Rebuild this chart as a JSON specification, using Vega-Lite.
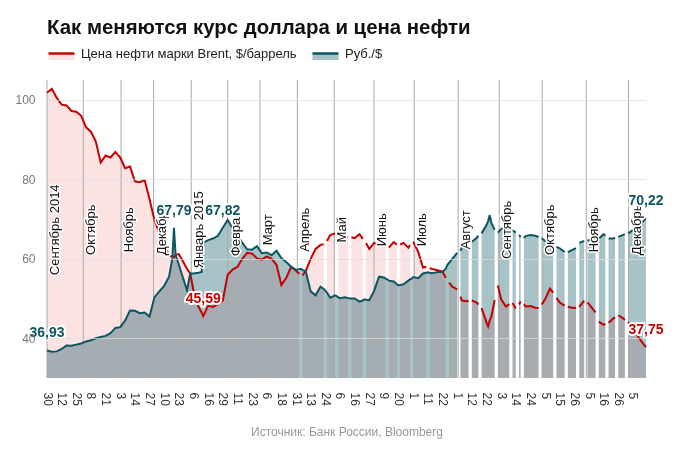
{
"$schema": "https://vega.github.io/schema/vega-lite/v6.json",
"width": 599, "height": 298,
"autosize": {"type": "none"},
"padding": {"left": 47, "top": 80, "right": 36, "bottom": 80},
"background": "white",
"title": {"text": "Как меняются курс доллара и цена нефти", "anchor": "start", "frame": "group", "fontSize": 20.4, "fontWeight": "bold", "font": "Liberation Sans", "color": "#111111", "offset": 1},
"datasets": {
"d": [
{"i":0,"o":101.8,"r":36.93},{"i":3,"o":102.8,"r":36.6},{"i":6,"o":100.5,"r":36.7},{"i":9,"o":98.8,"r":37.3},{"i":12,"o":98.6,"r":38.2},{"i":15,"o":97.2,"r":38.1},{"i":18,"o":97.0,"r":38.4},{"i":21,"o":96.0,"r":38.7},{"i":24,"o":93.1,"r":39.2},{"i":27,"o":92.0,"r":39.5},{"i":30,"o":89.5,"r":40.0},{"i":33,"o":84.2,"r":40.3},{"i":36,"o":86.0,"r":40.6},{"i":39,"o":85.5,"r":41.3},{"i":42,"o":86.9,"r":42.6},{"i":45,"o":85.5,"r":42.8},{"i":48,"o":82.8,"r":44.5},{"i":51,"o":83.2,"r":47.0},{"i":54,"o":79.5,"r":46.9},{"i":57,"o":79.3,"r":46.3},{"i":60,"o":79.8,"r":46.5},{"i":63,"o":75.0,"r":45.5},{"i":66,"o":69.8,"r":50.3},{"i":69,"o":66.5,"r":51.8},{"i":72,"o":63.5,"r":53.2},{"i":75,"o":60.8,"r":55.5},{"i":77,"o":60.6,"r":60.0},{"i":78,"o":60.5,"r":67.79},{"i":79,"o":61.0,"r":61.0},{"i":81,"o":61.2,"r":58.5},{"i":84,"o":59.0,"r":54.6},{"i":86,"o":57.5,"r":52.1},{"i":88,"o":56.3,"r":56.3},{"i":90,"o":52.0,"r":56.3},{"i":93,"o":48.0,"r":56.5},{"i":95,"o":46.5,"r":56.7},{"i":96,"o":45.59,"r":64.0},{"i":99,"o":48.2,"r":64.7},{"i":102,"o":47.9,"r":65.1},{"i":105,"o":48.6,"r":65.8},{"i":108,"o":49.5,"r":67.82},{"i":111,"o":56.0,"r":69.8},{"i":114,"o":57.3,"r":67.6},{"i":117,"o":58.0,"r":65.7},{"i":120,"o":60.0,"r":64.0},{"i":123,"o":61.5,"r":62.4},{"i":126,"o":61.3,"r":62.3},{"i":129,"o":60.1,"r":63.2},{"i":132,"o":59.8,"r":61.4},{"i":135,"o":60.6,"r":61.6},{"i":138,"o":60.0,"r":60.9},{"i":141,"o":58.5,"r":62.0},{"i":144,"o":53.4,"r":60.2},{"i":147,"o":55.2,"r":59.2},{"i":150,"o":58.0,"r":58.0},{"i":153,"o":57.0,"r":57.2},{"i":155,"o":56.2,"r":57.4},{"i":156,"o":null,"r":57.5},{"i":157,"o":55.8,"r":57.2},{"i":159,"o":57.0,"r":56.8},{"i":162,"o":60.0,"r":51.8},{"i":165,"o":62.5,"r":50.8},{"i":168,"o":63.5,"r":53.0},{"i":170,"o":63.7,"r":52.4},{"i":171,"o":null,"r":52.0},{"i":172,"o":64.5,"r":51.5},{"i":174,"o":66.0,"r":50.2},{"i":177,"o":66.4,"r":50.8},{"i":178,"o":null,"r":50.6},{"i":179,"o":66.0,"r":50.3},{"i":180,"o":65.8,"r":50.1},{"i":183,"o":65.5,"r":50.3},{"i":185,"o":65.5,"r":50.1},{"i":186,"o":null,"r":50.0},{"i":187,"o":65.4,"r":50.0},{"i":189,"o":65.2,"r":50.0},{"i":192,"o":66.2,"r":49.2},{"i":194,"o":65.0,"r":49.5},{"i":195,"o":null,"r":49.8},{"i":196,"o":64.0,"r":49.7},{"i":198,"o":62.5,"r":49.6},{"i":201,"o":64.0,"r":52.0},{"i":204,"o":63.5,"r":55.5},{"i":207,"o":63.8,"r":55.3},{"i":208,"o":63.2,"r":55.0},{"i":209,"o":null,"r":54.8},{"i":210,"o":62.8,"r":54.5},{"i":213,"o":64.2,"r":54.3},{"i":215,"o":63.6,"r":53.6},{"i":216,"o":null,"r":53.3},{"i":217,"o":63.6,"r":53.4},{"i":219,"o":64.0,"r":53.6},{"i":222,"o":62.8,"r":54.5},{"i":223,"o":63.5,"r":54.8},{"i":224,"o":null,"r":55.0},{"i":225,"o":64.3,"r":55.4},{"i":228,"o":61.8,"r":55.1},{"i":231,"o":57.8,"r":56.3},{"i":233,"o":58.0,"r":56.5},{"i":234,"o":null,"r":56.6},{"i":235,"o":57.6,"r":56.5},{"i":237,"o":57.4,"r":56.4},{"i":240,"o":57.1,"r":56.7},{"i":243,"o":56.8,"r":56.7},{"i":245,"o":55.2,"r":57.5},{"i":246,"o":null,"r":58.5},{"i":247,"o":54.0,"r":59.0},{"i":249,"o":53.0,"r":60.0},
{"i":252,"o":52.3,"r":61.5},{"i":253,"o":null,"r":null},{"i":254,"o":50.5,"r":62.0},{"i":255,"o":49.5,"r":63.0},{"i":258,"o":49.3,"r":62.8},{"i":259,"o":49.4,"r":63.3},{"i":260,"o":null,"r":null},{"i":261,"o":49.5,"r":64.3},{"i":264,"o":49.0,"r":65.3},{"i":265,"o":48.5,"r":65.8},{"i":266,"o":null,"r":null},{"i":267,"o":47.6,"r":66.4},{"i":270,"o":44.0,"r":68.5},{"i":271,"o":43.0,"r":69.5},{"i":272,"o":44.5,"r":71.0},{"i":273,"o":45.5,"r":69.0},{"i":275,"o":49.6,"r":67.3},{"i":276,"o":null,"r":null},{"i":277,"o":53.3,"r":66.6},{"i":279,"o":49.8,"r":67.5},{"i":282,"o":48.0,"r":68.0},{"i":284,"o":48.6,"r":67.6},{"i":285,"o":null,"r":null},{"i":286,"o":48.9,"r":67.2},{"i":288,"o":47.5,"r":66.6},{"i":289,"o":null,"r":null},{"i":290,"o":48.5,"r":66.0},{"i":291,"o":49.3,"r":65.5},{"i":292,"o":null,"r":null},{"i":293,"o":48.6,"r":65.2},{"i":294,"o":48.0,"r":65.7},{"i":297,"o":48.1,"r":66.0},{"i":300,"o":47.7,"r":65.8},{"i":302,"o":47.6,"r":65.5},{"i":303,"o":null,"r":null},{"i":304,"o":48.5,"r":65.2},{"i":306,"o":49.8,"r":64.5},{"i":309,"o":52.5,"r":64.3},{"i":311,"o":51.5,"r":63.8},{"i":312,"o":null,"r":null},{"i":313,"o":50.2,"r":63.0},{"i":315,"o":49.0,"r":62.6},{"i":318,"o":48.2,"r":61.7},{"i":319,"o":null,"r":null},{"i":320,"o":48.0,"r":61.6},{"i":321,"o":47.8,"r":61.9},{"i":324,"o":47.6,"r":62.5},{"i":325,"o":47.7,"r":62.7},{"i":326,"o":null,"r":null},{"i":327,"o":47.9,"r":64.0},{"i":330,"o":49.5,"r":64.5},{"i":331,"o":null,"r":null},{"i":332,"o":49.0,"r":64.6},{"i":333,"o":48.6,"r":64.7},{"i":336,"o":47.0,"r":65.4},{"i":337,"o":46.5,"r":65.3},{"i":338,"o":null,"r":null},{"i":339,"o":44.2,"r":65.1},{"i":342,"o":43.4,"r":66.2},{"i":343,"o":43.6,"r":65.8},{"i":344,"o":null,"r":null},{"i":345,"o":43.9,"r":65.1},{"i":348,"o":45.0,"r":65.1},{"i":349,"o":45.3,"r":65.3},{"i":350,"o":null,"r":null},{"i":351,"o":45.8,"r":65.5},{"i":354,"o":45.0,"r":66.0},{"i":355,"o":44.6,"r":66.2},{"i":356,"o":null,"r":null},{"i":357,"o":44.1,"r":66.4},{"i":360,"o":42.2,"r":67.2},{"i":363,"o":40.5,"r":68.5},{"i":366,"o":38.8,"r":69.3},{"i":368,"o":37.75,"r":70.22}
],
"m": [
{"i":0,"name":"Сентябрь 2014"},{"i":22.3,"name":"Октябрь"},{"i":45.5,"name":"Ноябрь"},{"i":65.5,"name":"Декабрь"},{"i":88.6,"name":"Январь 2015"},{"i":111,"name":"Февраль"},{"i":130.8,"name":"Март"},{"i":153.8,"name":"Апрель"},{"i":176.5,"name":"Май"},{"i":200.9,"name":"Июнь"},{"i":225.6,"name":"Июль"},{"i":252.6,"name":"Август"},{"i":277.8,"name":"Сентябрь"},{"i":304.2,"name":"Октябрь"},{"i":331.3,"name":"Ноябрь"},{"i":357.3,"name":"Декабрь"}
],
"a": [
{"i":0,"v":36.93,"t":"36,93","s":"rub"},{"i":78,"v":67.79,"t":"67,79","s":"rub"},{"i":108,"v":67.82,"t":"67,82","s":"rub"},{"i":96,"v":45.59,"t":"45,59","s":"oil"},{"i":368,"v":70.22,"t":"70,22","s":"rub"},{"i":368,"v":37.75,"t":"37,75","s":"oil"}
]
},
"encoding": {
  "x": {"field": "i", "type": "quantitative", "scale": {"domain": [0, 368], "nice": false},
   "axis": {"values": [0,9,18,27,36,45,54,63,72,81,90,99,108,117,126,135,144,153,162,171,180,189,198,207,216,225,234,243,252,261,270,279,288,297,306,315,324,333,342,351,360],
    "labelExpr": "['30','12','25','8','21','3','14','27','10','23','6','16','29','11','23','6','18','31','13','24','6','16','27','9','20','1','11','22','1','12','22','3','14','24','5','15','26','5','16','26','5'][round(datum.value/9)]",
    "labelAngle": 90, "labelAlign": "left", "labelBaseline": "middle", "labelPadding": 14, "labelOverlap": false, "labelSeparation": -6, "labelFlush": false, "labelBound": false,
    "labelFontSize": 12, "labelColor": "#333333", "grid": false, "domain": false, "ticks": false,
    "title": "Источник: Банк России, Bloomberg", "titleColor": "#999999", "titleFontSize": 12, "titleFontWeight": "normal", "titlePadding": 21}}
},
"layer": [
{"data": {"name": "d"}, "mark": {"type": "area"},
 "encoding": {
  "y": {"field": "r", "type": "quantitative", "scale": {"domain": [30, 105], "nice": false, "zero": false},
   "axis": {"values": [40, 60, 80, 100], "title": null, "domain": false, "ticks": false, "labelPadding": 12, "labelFontSize": 12, "labelColor": "#777777", "grid": true, "gridColor": "#dddddd", "gridOpacity": 0.7, "zindex": 1}},
  "y2": {"datum": 30},
  "fill": {"datum": "Руб./$", "type": "nominal",
   "scale": {"domain": ["Цена нефти марки Brent, $/баррель", "Руб./$"], "range": ["#fbe3e3", "#a8c3c8"]},
   "legend": {"orient": "none", "legendX": 0, "legendY": -41, "direction": "horizontal", "title": null, "symbolType": "M-1,0H1V0.5H-1Z", "symbolSize": 676, "symbolStrokeWidth": 2.5, "symbolDash": [26, 200], "symbolOpacity": 1, "labelFontSize": 13, "labelColor": "#222222", "labelOffset": 5, "labelLimit": 400, "columnPadding": 10, "padding": 0}}
 }},
{"data": {"name": "d"}, "mark": {"type": "area", "blend": "multiply"},
 "encoding": {
  "y": {"field": "o", "type": "quantitative"},
  "y2": {"datum": 30},
  "fill": {"datum": "Цена нефти марки Brent, $/баррель", "type": "nominal"}
 }},
{"data": {"name": "m"}, "mark": {"type": "rule", "color": "#a8a8a8", "strokeWidth": 1},
 "encoding": {}},
{"data": {"name": "d"}, "mark": {"type": "line", "strokeWidth": 2},
 "encoding": {
  "y": {"field": "o", "type": "quantitative"},
  "stroke": {"datum": "Цена нефти марки Brent, $/баррель", "type": "nominal",
   "scale": {"domain": ["Цена нефти марки Brent, $/баррель", "Руб./$"], "range": ["#c40000", "#0c5662"]},
   "legend": {"orient": "none", "legendX": 0, "legendY": -41, "direction": "horizontal", "title": null, "symbolType": "M-1,0H1V0.5H-1Z", "symbolSize": 676, "symbolStrokeWidth": 2.5, "symbolDash": [26, 200], "symbolOpacity": 1, "labelFontSize": 13, "labelColor": "#222222", "labelOffset": 5, "labelLimit": 400, "columnPadding": 10, "padding": 0}}
 }},
{"data": {"name": "d"}, "mark": {"type": "line", "strokeWidth": 2},
 "encoding": {
  "y": {"field": "r", "type": "quantitative"},
  "stroke": {"datum": "Руб./$", "type": "nominal"}
 }},
{"data": {"name": "m"}, "mark": {"type": "text", "angle": -90, "align": "center", "baseline": "top", "dy": 2, "fontSize": 13, "color": "white", "stroke": "white", "strokeWidth": 3, "strokeJoin": "round"},
 "encoding": {"y": {"datum": 67.3}, "text": {"field": "name"}}},
{"data": {"name": "m"}, "mark": {"type": "text", "angle": -90, "align": "center", "baseline": "top", "dy": 2, "fontSize": 13, "color": "#111111"},
 "encoding": {"y": {"datum": 67.3}, "text": {"field": "name"}}},
{"data": {"name": "a"}, "mark": {"type": "text", "align": "center", "baseline": "middle", "dy": -17, "fontSize": 14, "fontWeight": "bold", "color": "white", "stroke": "white", "strokeWidth": 4, "strokeJoin": "round"},
 "encoding": {"y": {"field": "v", "type": "quantitative"}, "text": {"field": "t"}}},
{"data": {"name": "a"}, "mark": {"type": "text", "align": "center", "baseline": "middle", "dy": -17, "fontSize": 14, "fontWeight": "bold"},
 "encoding": {"y": {"field": "v", "type": "quantitative"}, "text": {"field": "t"},
  "color": {"field": "s", "type": "nominal", "scale": {"domain": ["oil", "rub"], "range": ["#c40000", "#0c5662"]}, "legend": null}}}
],
"config": {"font": "Liberation Sans", "view": {"stroke": null}, "axisX": {"labelOverlap": false, "labelSeparation": -6}}
}
